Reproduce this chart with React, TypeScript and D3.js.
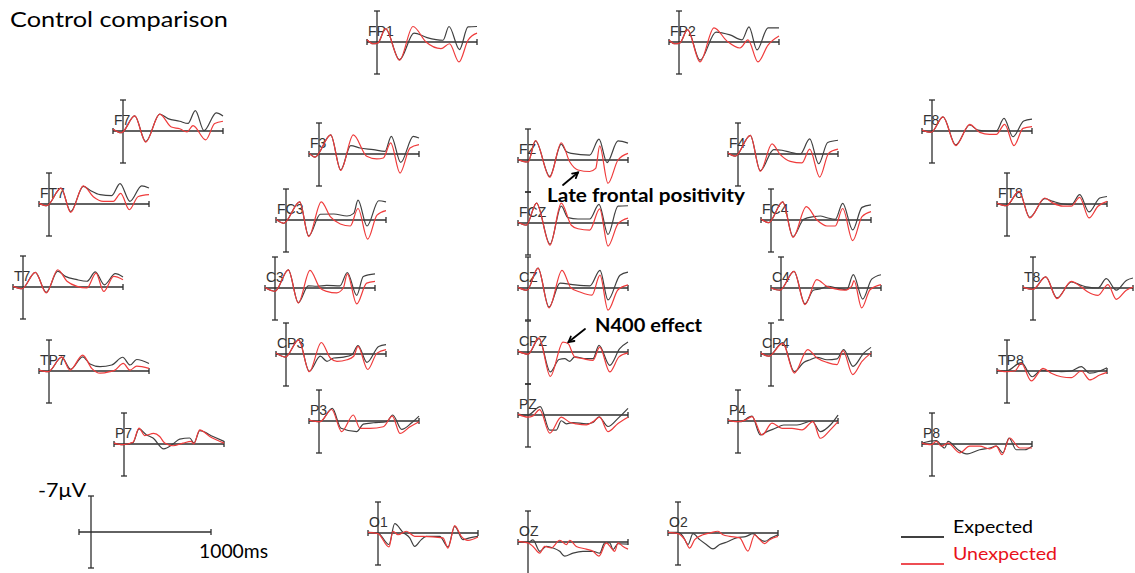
import React from 'react';
import * as d3 from 'd3';

type Pt = [number, number]; // [time ms, amplitude µV] (negative plotted up)

// ---------- data (time ms, µV) ----------
const FP1_EXP: Pt[] = [[-100,-0.5],[-40,0.4],[10,0.2],[85,-3.0],[225,4.0],[370,-2.0],[500,-1.0],[660,-0.4],[720,-3.5],[825,1.7],[910,-3.4],[1000,-3.5]];
const FP1_UNEXP: Pt[] = [[-100,-0.5],[-40,0.4],[10,0.2],[85,-3.0],[225,4.1],[360,-3.5],[490,0],[640,1.5],[725,0.4],[820,4.5],[910,-0.4],[1000,-2.0]];
const FP2_EXP: Pt[] = [[-100,-0.4],[-40,0.4],[10,0.2],[85,-2.8],[210,4.1],[370,-2.25],[510,-1.6],[630,-0.5],[700,-3.4],[780,1.8],[890,-3.2],[1000,-3.2]];
const FP2_UNEXP: Pt[] = [[-100,-0.4],[-40,0.4],[10,0.2],[85,-2.8],[210,4.5],[350,-3.2],[480,-0.2],[610,1.35],[690,-0.5],[790,4.5],[890,0.7],[1000,-1.35]];
const F7_EXP: Pt[] = [[-100,-0.4],[-17,0.4],[117,-3.4],[227,2.4],[367,-3.8],[450,-2.8],[567,-2.2],[650,-1.7],[723,-4.6],[810,-0.1],[933,-4.1],[1000,-3.4]];
const F7_UNEXP: Pt[] = [[-100,-0.4],[-17,0.4],[117,-3.4],[227,2.5],[367,-3.8],[483,-0.9],[567,-0.5],[640,0.2],[700,-1.2],[827,2.0],[917,-1.7],[1000,-2.2]];
const F3_EXP: Pt[] = [[-100,-0.2],[-40,0.7],[117,-4.3],[217,3.6],[317,-1.9],[410,-1.35],[543,-1.0],[660,-0.6],[723,-4.0],[817,1.9],[943,-4.0],[1000,-3.6]];
const F3_UNEXP: Pt[] = [[-100,-0.2],[-40,0.7],[117,-4.3],[217,3.7],[343,-4.3],[477,0.5],[577,1.1],[643,0.9],[717,-2.5],[810,4.3],[910,-1.35],[1000,-2.1]];
const FZ_EXP: Pt[] = [[-100,-0.1],[-50,0.3],[0,0.45],[75,-4.3],[217,3.7],[333,-3.6],[383,-1.9],[433,-1.5],[617,-1.1],[710,-4.7],[790,0.6],[900,-4.3],[1000,-3.8]];
const FZ_UNEXP: Pt[] = [[-100,-0.1],[-50,0.3],[0,0.45],[75,-4.4],[217,3.9],[333,-3.9],[417,0.4],[500,2.25],[617,2.6],[677,1.9],[717,-3.2],[800,5.25],[900,0],[1000,-1.5]];
const F4_EXP: Pt[] = [[-100,-0.2],[-27,0.5],[123,-4.2],[223,3.75],[357,-1.0],[440,-0.85],[523,-0.4],[623,0],[717,-3.4],[807,2.2],[897,-2.6],[1000,-3.1]];
const F4_UNEXP: Pt[] = [[-100,-0.2],[-27,0.5],[123,-4.2],[223,3.9],[340,-2.3],[423,0.15],[523,1.65],[640,2.0],[717,-1.1],[817,5.2],[907,-0.2],[1000,-1.1]];
const F8_EXP: Pt[] = [[-100,-0.2],[-7,0.3],[110,-3.2],[237,3.15],[377,-1.35],[460,-0.2],[560,0],[643,0],[720,-2.85],[810,1.3],[917,-2.25],[1000,-2.7]];
const F8_UNEXP: Pt[] = [[-100,-0.2],[-7,0.3],[110,-3.2],[237,3.3],[377,-1.5],[477,0.3],[577,0.75],[643,0.75],[727,-1.5],[820,3.3],[910,-0.6],[1000,-1.0]];
const FT7_EXP: Pt[] = [[-100,-0.2],[-23,0.4],[120,-3.6],[217,1.7],[343,-4.0],[410,-3.1],[510,-2.1],[627,-1.9],[710,-4.6],[810,-0.6],[927,-4.1],[1000,-3.6]];
const FT7_UNEXP: Pt[] = [[-100,-0.2],[-23,0.4],[120,-3.6],[217,1.9],[343,-4.1],[443,-1.65],[543,-0.6],[643,-0.6],[717,-2.4],[803,1.3],[893,-1.7],[1000,-2.1]];
const FC3_EXP: Pt[] = [[-100,-0.15],[-23,0.75],[137,-4.1],[227,3.6],[343,-1.3],[477,-1.35],[610,-0.9],[677,-1.5],[720,-4.5],[810,1.35],[927,-4.35],[1000,-4.1]];
const FC3_UNEXP: Pt[] = [[-100,-0.15],[-23,0.75],[137,-4.1],[227,3.75],[353,-4.1],[443,-0.75],[543,0.9],[643,1.35],[720,-2.6],[817,4.3],[910,-1.1],[1000,-2.1]];
const FCZ_EXP: Pt[] = [[-100,-0.15],[-17,0.5],[85,-4.5],[220,4.8],[333,-3.8],[400,-1.2],[500,-0.9],[617,-0.9],[710,-4.2],[800,2.6],[900,-3.8],[1000,-3.9]];
const FCZ_UNEXP: Pt[] = [[-100,-0.15],[-17,0.5],[85,-4.5],[220,5.0],[333,-4.5],[433,0.5],[500,1.3],[617,1.6],[717,-3.2],[800,5.2],[900,0.2],[1000,-1.1]];
const FC4_EXP: Pt[] = [[-100,-0.2],[-23,0.6],[117,-4.1],[220,3.75],[327,-0.15],[427,-0.75],[493,-0.9],[560,-0.5],[643,-0.15],[717,-3.75],[817,2.25],[910,-2.85],[1000,-3.4]];
const FC4_UNEXP: Pt[] = [[-100,-0.2],[-23,0.6],[117,-4.1],[220,3.9],[353,-3.0],[460,0],[560,1.35],[643,1.35],[717,-2.6],[817,4.65],[910,-0.75],[1000,-1.9]];
const FT8_EXP: Pt[] = [[-100,-0.2],[-7,0.4],[120,-2.85],[227,3.0],[377,-1.2],[460,-0.6],[560,0],[643,0.15],[727,-2.1],[820,1.8],[927,-1.35],[1000,-1.7]];
const FT8_UNEXP: Pt[] = [[-100,-0.2],[-7,0.4],[120,-2.85],[227,3.15],[377,-1.35],[460,-0.2],[560,0.5],[643,0.5],[727,-1.5],[820,3.15],[910,0.5],[1000,-0.6]];
const T7_EXP: Pt[] = [[-100,-0.15],[-10,0.4],[123,-3.3],[233,1.2],[347,-3.6],[423,-2.4],[540,-1.65],[640,-1.3],[723,-3.4],[813,-0.5],[923,-3.0],[1000,-2.25]];
const T7_UNEXP: Pt[] = [[-100,-0.15],[-10,0.4],[123,-3.3],[233,1.35],[347,-3.9],[440,-1.3],[540,-0.15],[640,0.2],[730,-3.15],[807,1.0],[907,-2.4],[1000,-1.65]];
const C3_EXP: Pt[] = [[-100,-0.1],[0,0.75],[133,-4.1],[233,3.3],[333,-0.5],[417,-0.4],[517,-0.6],[650,-0.5],[723,-3.5],[817,1.65],[883,-2.6],[1000,-3.2]];
const C3_UNEXP: Pt[] = [[-100,-0.1],[0,0.75],[133,-4.1],[233,3.4],[350,-4.0],[450,0],[517,0.75],[617,1.1],[683,0],[723,-3.2],[817,3.6],[917,-1.1],[1000,-1.5]];
const CZ_EXP: Pt[] = [[-100,-0.15],[-10,0.5],[100,-4.5],[210,4.3],[320,-1.1],[470,-0.7],[620,-0.5],[720,-4.0],[800,2.7],[920,-2.9],[1000,-3.6]];
const CZ_UNEXP: Pt[] = [[-100,-0.15],[-10,0.5],[100,-4.5],[210,4.5],[340,-4.0],[430,0],[520,0.9],[640,1.6],[720,-2.9],[800,5.0],[900,0.4],[1000,-0.7]];
const C4_EXP: Pt[] = [[-100,0],[-10,0.5],[130,-3.75],[240,3.6],[323,0.5],[390,0.2],[473,-0.4],[557,0],[657,0.4],[723,-3.0],[817,2.5],[907,-2.0],[1000,-3.0]];
const C4_UNEXP: Pt[] = [[-100,0],[-10,0.5],[130,-3.75],[240,3.75],[357,-1.9],[457,-0.4],[540,0.2],[640,0.5],[707,-0.4],[730,-1.65],[807,4.5],[890,0.4],[1000,-0.75]];
const T8_EXP: Pt[] = [[-100,-0.2],[0,0.3],[127,-2.5],[240,2.25],[383,-1.35],[483,-0.6],[550,-0.2],[650,0],[733,-2.1],[833,0.5],[933,-1.7],[1000,-2.25]];
const T8_UNEXP: Pt[] = [[-100,-0.2],[0,0.3],[127,-2.5],[240,2.4],[383,-1.5],[483,-0.2],[550,0.9],[650,1.65],[750,-0.75],[833,2.55],[933,0.5],[1000,-0.2]];
const TP7_EXP: Pt[] = [[-100,-0.2],[-7,0.15],[127,-3.1],[217,-0.4],[337,-3.2],[410,-1.6],[510,-1.0],[627,-1.35],[737,-3.1],[810,-1.35],[877,-2.6],[1000,-1.7]];
const TP7_UNEXP: Pt[] = [[-100,-0.2],[-7,0.15],[127,-3.2],[210,-0.2],[337,-3.6],[427,-0.6],[510,0.5],[610,0.15],[660,-0.2],[743,-1.7],[810,-0.2],[877,-1.1],[1000,-0.6]];
const CP3_EXP: Pt[] = [[-100,-0.2],[-7,0.7],[127,-3.2],[233,3.9],[343,0.5],[410,1.65],[477,0.9],[577,0.7],[660,0.15],[720,-1.9],[810,1.9],[927,-1.7],[1000,-2.1]];
const CP3_UNEXP: Pt[] = [[-100,-0.2],[-7,0.7],[127,-3.2],[233,4.0],[353,-2.6],[443,0.9],[510,1.65],[610,1.3],[677,0.5],[720,-1.7],[817,3.5],[910,-0.2],[1000,-1.0]];
const CPZ_EXP: Pt[] = [[-100,-0.2],[0,0.5],[110,-3.0],[223,4.5],[310,1.7],[367,1.5],[417,2.1],[467,1.1],[583,1.5],[650,1.5],[710,-1.5],[817,3.0],[917,-0.75],[1000,-2.25]];
const CPZ_UNEXP: Pt[] = [[-100,-0.2],[0,0.5],[110,-3.2],[223,5.5],[350,-2.25],[400,-1.9],[467,1.1],[550,1.5],[650,1.9],[717,-1.1],[817,4.5],[910,1.1],[1000,0.2]];
const CP4_EXP: Pt[] = [[-100,-0.2],[-23,0.5],[117,-2.6],[233,4.0],[327,1.9],[393,1.3],[460,0.75],[560,1.3],[660,1.1],[727,-1.0],[820,2.8],[927,-0.2],[1000,-1.5]];
const CP4_UNEXP: Pt[] = [[-100,-0.2],[-23,0.5],[117,-2.4],[233,4.3],[367,-1.0],[460,0.9],[560,1.9],[660,2.4],[720,-0.75],[817,4.65],[910,1.65],[1000,-0.2]];
const TP8_EXP: Pt[] = [[-100,-0.2],[-7,0],[143,-1.9],[253,1.3],[343,-0.2],[443,0],[543,0.15],[643,0],[743,-1.0],[827,0.5],[927,0],[1000,-0.75]];
const TP8_UNEXP: Pt[] = [[-100,-0.2],[-7,0.15],[77,0],[143,-1.7],[243,2.25],[360,-0.6],[443,0.5],[543,1.3],[643,1.5],[743,0],[827,2.0],[927,0.9],[1000,0.3]];
const P7_EXP: Pt[] = [[-100,-0.2],[-10,0.15],[90,-0.3],[150,-3.4],[223,-2.1],[290,-1.35],[397,1.1],[490,0],[557,-1.1],[657,-1.35],[700,-0.2],[757,-3.0],[890,-1.7],[1000,-0.6]];
const P7_UNEXP: Pt[] = [[-100,-0.2],[-10,0.15],[90,-0.4],[150,-3.6],[207,-1.9],[297,-2.4],[357,-1.7],[407,-0.2],[490,0.4],[590,-0.2],[673,-0.6],[697,0],[757,-3.2],[857,-1.7],[1000,-0.2]];
const P3_EXP: Pt[] = [[-100,-0.2],[10,0.15],[133,-2.85],[220,1.65],[377,2.4],[443,0.7],[543,0.4],[677,0.15],[737,-1.35],[827,1.9],[927,0.4],[1000,-1.1]];
const P3_UNEXP: Pt[] = [[-100,-0.2],[10,0.15],[127,-2.6],[227,2.4],[343,-1.35],[410,1.65],[510,1.65],[643,1.3],[733,-1.1],[810,2.8],[910,1.3],[1000,0.15]];
const PZ_EXP: Pt[] = [[-100,-0.2],[0,0],[123,-1.9],[217,3.4],[283,3.4],[333,1.3],[383,2.0],[450,1.7],[583,2.0],[650,1.7],[710,0.4],[800,2.6],[900,0.75],[1000,-1.5]];
const PZ_UNEXP: Pt[] = [[-100,-0.2],[0,0.5],[50,0.2],[117,-1.2],[217,4.1],[333,0.5],[417,1.65],[483,2.0],[583,2.25],[650,1.5],[717,0.5],[800,3.75],[900,1.9],[1000,0.5]];
const P4_EXP: Pt[] = [[-100,-0.2],[23,0.15],[140,-1.1],[223,3.15],[290,2.4],[373,1.65],[457,0.9],[590,0.9],[740,0],[823,2.4],[923,0.9],[1000,-1.35]];
const P4_UNEXP: Pt[] = [[-100,-0.2],[-10,0.15],[73,-0.2],[140,-1.0],[240,3.15],[340,0.5],[440,1.65],[540,1.65],[640,2.0],[750,0.15],[823,3.9],[923,2.0],[1000,0.15]];
const P8_EXP: Pt[] = [[-100,-0.2],[43,-0.75],[127,0.9],[160,-0.6],[260,1.3],[343,2.25],[477,1.3],[577,0.9],[643,0.5],[710,2.0],[770,-1.35],[843,1.3],[927,1.3],[1000,0.5]];
const P8_UNEXP: Pt[] = [[-100,-0.2],[-7,0.15],[43,-0.6],[93,0.5],[160,-0.2],[277,2.0],[377,0.5],[477,0.5],[577,1.1],[643,0.5],[700,2.4],[777,-1.35],[877,0.9],[1000,0.9]];
const O1_EXP: Pt[] = [[-100,-0.15],[0,0],[110,2.6],[167,-2.1],[250,-0.15],[317,1.1],[367,3.0],[433,1.5],[483,0.75],[617,0.75],[700,3.15],[767,-1.5],[850,1.5],[917,1.1],[1000,0.75]];
const O1_UNEXP: Pt[] = [[-100,-0.15],[0,0.15],[110,3.15],[150,-0.4],[200,0.4],[283,-0.4],[367,0.75],[450,0.75],[650,1.1],[700,3.4],[767,-1.65],[833,0.75],[900,1.65],[1000,0.9]];
const OZ_EXP: Pt[] = [[-100,-0.15],[0,0.1],[50,-0.5],[117,2.1],[183,1.0],[250,1.35],[317,2.1],[367,3.2],[450,2.5],[550,2.1],[650,2.1],[717,2.5],[767,0.2],[817,0.2],[850,1.7],[900,0.4],[1000,0.5]];
const OZ_UNEXP: Pt[] = [[-100,-0.15],[0,0.2],[50,1.0],[117,2.5],[167,1.0],[233,1.35],[317,-0.4],[383,0.6],[417,-0.4],[483,1.0],[583,1.6],[650,2.1],[710,3.2],[783,0.2],[833,1.35],[867,2.1],[900,0.2],[950,1.0],[1000,1.6]];
const O2_EXP: Pt[] = [[-100,-0.15],[0,-0.15],[50,0.75],[100,2.6],[150,0.15],[217,1.5],[283,2.6],[350,3.6],[417,2.6],[483,2.1],[583,1.1],[683,0.75],[750,0.15],[817,1.35],[867,1.9],[933,1.1],[1000,0.4]];
const O2_UNEXP: Pt[] = [[-100,-0.15],[0,0.15],[67,1.5],[117,3.4],[167,1.5],[250,0.4],[317,0],[400,-0.4],[450,0.4],[517,0.75],[617,1.1],[700,4.1],[767,0.4],[817,1.5],[867,2.4],[917,1.5],[1000,0.75]];

const TIME_DOMAIN: [number, number] = [-100, 1000];
const AMP_DOMAIN: [number, number] = [-7, 7];
const SERIES_NAMES = ['Expected', 'Unexpected'];
const ANNOTATIONS = ['Late frontal positivity', 'N400 effect'];
const TITLE = 'Control comparison';

// ---------- layout ----------
const ELECTRODES = [
  { name: 'FP1', cx: 377, cy: 42, exp: FP1_EXP, unexp: FP1_UNEXP },
  { name: 'FP2', cx: 679, cy: 42, exp: FP2_EXP, unexp: FP2_UNEXP },
  { name: 'F7', cx: 123, cy: 131, exp: F7_EXP, unexp: F7_UNEXP },
  { name: 'F3', cx: 319, cy: 154, exp: F3_EXP, unexp: F3_UNEXP },
  { name: 'FZ', cx: 528, cy: 160, exp: FZ_EXP, unexp: FZ_UNEXP },
  { name: 'F4', cx: 738, cy: 154, exp: F4_EXP, unexp: F4_UNEXP },
  { name: 'F8', cx: 932, cy: 131, exp: F8_EXP, unexp: F8_UNEXP },
  { name: 'FT7', cx: 49, cy: 204, exp: FT7_EXP, unexp: FT7_UNEXP },
  { name: 'FC3', cx: 286, cy: 220, exp: FC3_EXP, unexp: FC3_UNEXP },
  { name: 'FCZ', cx: 528, cy: 223, exp: FCZ_EXP, unexp: FCZ_UNEXP },
  { name: 'FC4', cx: 771, cy: 220, exp: FC4_EXP, unexp: FC4_UNEXP },
  { name: 'FT8', cx: 1007, cy: 204, exp: FT8_EXP, unexp: FT8_UNEXP },
  { name: 'T7', cx: 23, cy: 287, exp: T7_EXP, unexp: T7_UNEXP },
  { name: 'C3', cx: 275, cy: 288, exp: C3_EXP, unexp: C3_UNEXP },
  { name: 'CZ', cx: 528, cy: 288, exp: CZ_EXP, unexp: CZ_UNEXP },
  { name: 'C4', cx: 781, cy: 288, exp: C4_EXP, unexp: C4_UNEXP },
  { name: 'T8', cx: 1033, cy: 288, exp: T8_EXP, unexp: T8_UNEXP },
  { name: 'TP7', cx: 49, cy: 371, exp: TP7_EXP, unexp: TP7_UNEXP },
  { name: 'CP3', cx: 286, cy: 354, exp: CP3_EXP, unexp: CP3_UNEXP },
  { name: 'CPZ', cx: 528, cy: 352, exp: CPZ_EXP, unexp: CPZ_UNEXP },
  { name: 'CP4', cx: 771, cy: 354, exp: CP4_EXP, unexp: CP4_UNEXP },
  { name: 'TP8', cx: 1007, cy: 371, exp: TP8_EXP, unexp: TP8_UNEXP },
  { name: 'P7', cx: 124, cy: 444, exp: P7_EXP, unexp: P7_UNEXP },
  { name: 'P3', cx: 319, cy: 421, exp: P3_EXP, unexp: P3_UNEXP },
  { name: 'PZ', cx: 528, cy: 415, exp: PZ_EXP, unexp: PZ_UNEXP },
  { name: 'P4', cx: 738, cy: 421, exp: P4_EXP, unexp: P4_UNEXP },
  { name: 'P8', cx: 932, cy: 444, exp: P8_EXP, unexp: P8_UNEXP },
  { name: 'O1', cx: 378, cy: 533, exp: O1_EXP, unexp: O1_UNEXP },
  { name: 'OZ', cx: 528, cy: 542, exp: OZ_EXP, unexp: OZ_UNEXP },
  { name: 'O2', cx: 678, cy: 533, exp: O2_EXP, unexp: O2_UNEXP },
];

const AXIS_COLOR = '#2e2e2e';
const EXP_COLOR = '#404040';
const UNEXP_COLOR = '#ef3b3b';
const LEGEND_RED = '#e8121a';
const SANS = 'Lato, "Open Sans", sans-serif';

function Electrode({ e }: { e: typeof ELECTRODES[number] }) {
  const x = d3.scaleLinear().domain(TIME_DOMAIN).range([e.cx - 10, e.cx + 100]);
  const y = d3.scaleLinear().domain(AMP_DOMAIN).range([e.cy - 31, e.cy + 31]);
  const line = d3
    .line<Pt>()
    .x((d) => x(d[0]))
    .y((d) => y(d[1]))
    .curve(d3.curveMonotoneX);
  const x0 = x(0);
  const xl = x(TIME_DOMAIN[0]);
  const xr = x(TIME_DOMAIN[1]);
  const yt = y(AMP_DOMAIN[0]);
  const yb = y(AMP_DOMAIN[1]) + 1;
  const y0 = y(0);
  return (
    <g>
      <g stroke={AXIS_COLOR} strokeWidth={1.3} fill="none">
        <line x1={xl} x2={xr} y1={y0} y2={y0} />
        <line x1={xl} x2={xl} y1={y0 - 3} y2={y0 + 3} />
        <line x1={xr} x2={xr} y1={y0 - 3} y2={y0 + 3} />
        <line x1={x0} x2={x0} y1={yt} y2={yb} />
        <line x1={x0 - 3} x2={x0 + 3} y1={yt} y2={yt} />
        <line x1={x0 - 3} x2={x0 + 3} y1={yb} y2={yb} />
      </g>
      <text x={xl + 1} y={y0 - 6} fontFamily='"Liberation Sans", Arial, sans-serif' fontSize={14} fill="#333">
        {e.name}
      </text>
      <path d={line(e.exp) || ''} fill="none" stroke={EXP_COLOR} strokeWidth={1.2} />
      <path d={line(e.unexp) || ''} fill="none" stroke={UNEXP_COLOR} strokeWidth={1.2} />
    </g>
  );
}

function Arrow({ x1, y1, x2, y2 }: { x1: number; y1: number; x2: number; y2: number }) {
  const ang = Math.atan2(y2 - y1, x2 - x1);
  const L = 6;
  const a1 = ang + Math.PI - 0.5;
  const a2 = ang + Math.PI + 0.5;
  return (
    <g stroke="#000" strokeWidth={1.8} fill="none" strokeLinecap="round">
      <line x1={x1} y1={y1} x2={x2} y2={y2} />
      <polyline
        points={`${x2 + L * Math.cos(a1)},${y2 + L * Math.sin(a1)} ${x2},${y2} ${x2 + L * Math.cos(a2)},${y2 + L * Math.sin(a2)}`}
      />
    </g>
  );
}

export default function App() {
  // scale bar
  const sbx = d3.scaleLinear().domain(TIME_DOMAIN).range([79, 211]);
  const sby = d3.scaleLinear().domain(AMP_DOMAIN).range([496, 568]);
  const sx0 = sbx(0);
  const sy0 = sby(0);
  return (
    <svg
      width={1135}
      height={573}
      style={{ position: 'absolute', left: 0, top: 0, background: '#fff' }}
    >
      <rect width={1135} height={573} fill="#fff" />
      <text x={10} y={27} fontFamily={SANS} fontSize={22} fill="#000" textLength={218} lengthAdjust="spacingAndGlyphs">
        {TITLE}
      </text>

      {ELECTRODES.map((e) => (
        <Electrode key={e.name} e={e} />
      ))}

      {/* annotations */}
      <text x={547} y={202} fontFamily={SANS} fontWeight={700} fontSize={18} fill="#000" textLength={198} lengthAdjust="spacingAndGlyphs">
        {ANNOTATIONS[0]}
      </text>
      <Arrow x1={563} y1={185} x2={578} y2={172.5} />
      <text x={595} y={332} fontFamily={SANS} fontWeight={700} fontSize={19} fill="#000" textLength={107} lengthAdjust="spacingAndGlyphs">
        {ANNOTATIONS[1]}
      </text>
      <Arrow x1={585} y1={329} x2={568.5} y2={342} />

      {/* scale bar */}
      <g stroke={AXIS_COLOR} strokeWidth={1.3}>
        <line x1={sbx(-100)} x2={sbx(1000)} y1={sy0} y2={sy0} />
        <line x1={sbx(-100)} x2={sbx(-100)} y1={sy0 - 3} y2={sy0 + 3} />
        <line x1={sbx(1000)} x2={sbx(1000)} y1={sy0 - 3} y2={sy0 + 3} />
        <line x1={sx0} x2={sx0} y1={sby(-7)} y2={sby(7)} />
        <line x1={sx0 - 3} x2={sx0 + 3} y1={sby(-7)} y2={sby(-7)} />
        <line x1={sx0 - 3} x2={sx0 + 3} y1={sby(7)} y2={sby(7)} />
      </g>
      <text x={38} y={497} fontFamily={SANS} fontSize={19} fill="#000" textLength={48} lengthAdjust="spacingAndGlyphs">
        -7μV
      </text>
      <text x={199} y={558} fontFamily={SANS} fontSize={19} fill="#000" textLength={69} lengthAdjust="spacingAndGlyphs">
        1000ms
      </text>

      {/* legend */}
      <line x1={901} x2={944} y1={537} y2={537} stroke="#000" strokeWidth={1.6} />
      <text x={953} y={533} fontFamily={SANS} fontSize={18} fill="#000" textLength={80} lengthAdjust="spacingAndGlyphs">
        {SERIES_NAMES[0]}
      </text>
      <line x1={901} x2={944} y1={564} y2={564} stroke={LEGEND_RED} strokeWidth={1.6} />
      <text x={953} y={560} fontFamily={SANS} fontSize={18} fill={LEGEND_RED} textLength={104} lengthAdjust="spacingAndGlyphs">
        {SERIES_NAMES[1]}
      </text>
    </svg>
  );
}
